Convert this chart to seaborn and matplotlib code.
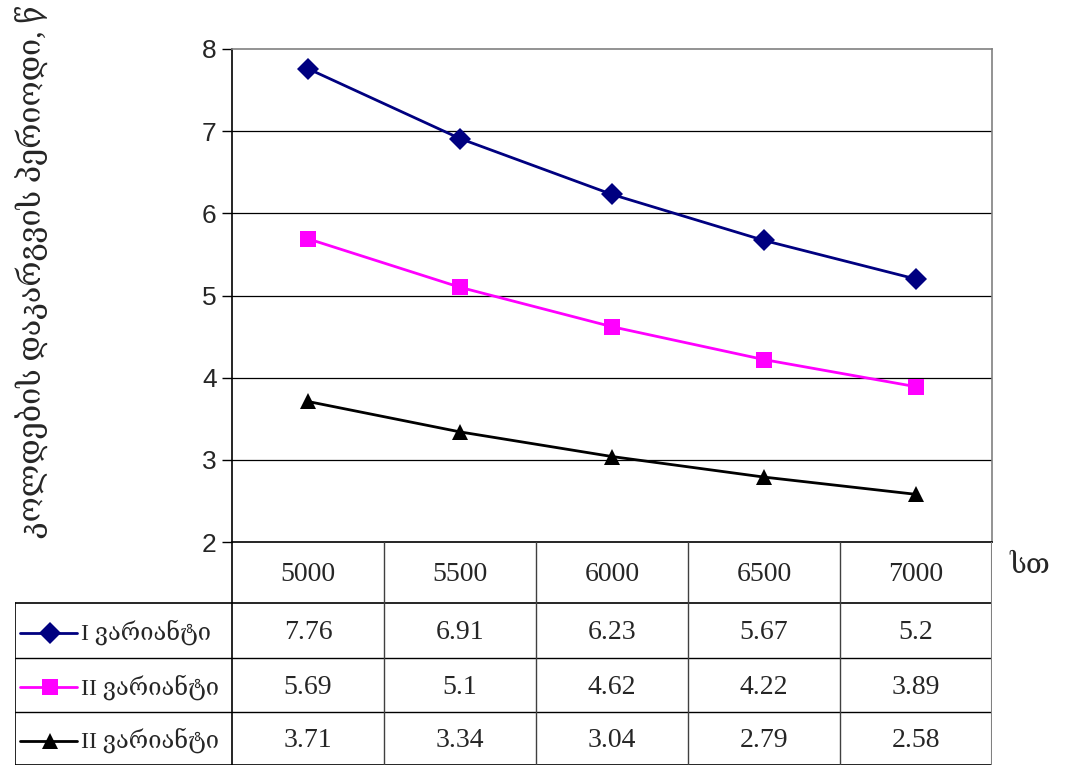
import matplotlib
matplotlib.use("Agg")
import matplotlib.pyplot as plt
from matplotlib.lines import Line2D
import seaborn as sns
import pandas as pd

# data
hours = ["5000", "5500", "6000", "6500", "7000"]
variant_names = ["I ვარიანტი", "II ვარიანტი", "II ვარიანტი "]
v1 = [7.76, 6.91, 6.23, 5.67, 5.2]
v2 = [5.69, 5.1, 4.62, 4.22, 3.89]
v3 = [3.71, 3.34, 3.04, 2.79, 2.58]
y_label = "კოლდების დაკარგვის პერიოდი, წ"
x_unit = "სთ"

colors = ["#000080", "#FF00FF", "#000000"]
markers = ["D", "s", "^"]

sns.set_theme(style="white")
serif = ["Liberation Serif", "DejaVu Serif"]
plt.rcParams["font.family"] = ["Liberation Sans", "DejaVu Sans"]

rows = []
for name, vals in zip(variant_names, [v1, v2, v3]):
    for i, v in enumerate(vals):
        rows.append({"pos": i, "val": v, "variant": name})
df = pd.DataFrame(rows)

W, H = 1066, 766
fig = plt.figure(figsize=(W / 100, H / 100), dpi=100)

# plot area in pixels
L, R, T, B = 232, 992, 49, 542
ax = fig.add_axes([L / W, 1 - B / H, (R - L) / W, (B - T) / H])

sns.lineplot(data=df, x="pos", y="val", hue="variant", style="variant",
             palette=colors, markers=markers, dashes=False, linewidth=2.0,
             markersize=11, markeredgewidth=0, ax=ax, legend=False)

ax.set_xlim(-0.5, len(hours) - 0.5)
ax.set_ylim(2, 8)
ax.set_yticks(range(2, 9))
ax.set_xticks([])
ax.set_xlabel("")
ax.set_ylabel("")
ax.tick_params(axis="y", labelsize=19, length=7, width=1, color="black",
               direction="out", left=True, pad=4)
for y in range(3, 8):
    ax.axhline(y, color="black", lw=0.9, zorder=0)
ax.spines["left"].set_color("black")
ax.spines["bottom"].set_color("black")
ax.spines["top"].set_color("#808080")
ax.spines["right"].set_color("#808080")
for s in ax.spines.values():
    s.set_linewidth(1.2)

fig.text(32 / W, 1 - 272 / H, y_label, rotation=90, ha="center", va="center",
         fontsize=22, family=serif)
fig.text(1030 / W, 1 - 566 / H, x_unit, ha="center", va="center",
         fontsize=20, family=serif)

# data table under the plot
TL, TB = 15, 765
unit = (R - L) / len(hours)
tab = fig.add_axes([TL / W, 1 - TB / H, (R - TL) / W, (TB - B) / H])
tab.set_xlim(-0.5 - (L - TL) / unit, len(hours) - 0.5)
row_edges = [542, 603, 658, 712, 765]
tab.set_ylim(TB, B)
tab.axis("off")

x0 = tab.get_xlim()[0]
xl = -0.5
xr = len(hours) - 0.5
# horizontal lines
for yy in row_edges[2:4]:
    tab.plot([x0, xr], [yy] * 2, color="black", lw=1.0)
tab.plot([x0, xr], [row_edges[1]] * 2, color="black", lw=1.2)
tab.plot([x0, xr], [row_edges[-1]] * 2, color="black", lw=1.2)
# vertical lines
tab.plot([xl, xl], [row_edges[0], row_edges[-1]], color="black", lw=1.2)
tab.plot([x0, x0], [row_edges[1], row_edges[-1]], color="black", lw=1.2)
for i in range(1, len(hours)):
    tab.plot([i - 0.5] * 2, [row_edges[0], row_edges[-1]], color="#404040", lw=1.0)
tab.plot([xr, xr], [row_edges[0], row_edges[-1]], color="#808080", lw=1.5)

for i, h in enumerate(hours):
    tab.text(i, (row_edges[0] + row_edges[1]) / 2 + 2, h, ha="center", va="center",
             fontsize=20, family=serif)

px = (xl - x0) / (L - TL)  # data units per pixel in table
for r, (name, vals) in enumerate(zip(variant_names, [v1, v2, v3])):
    yc = (row_edges[r + 1] + row_edges[r + 2]) / 2 + 2
    for i, v in enumerate(vals):
        tab.text(i, yc, f"{v:g}", ha="center", va="center", fontsize=20, family=serif)
    tab.add_line(Line2D([x0 + 5 * px, x0 + 62 * px], [yc, yc], color=colors[r], lw=2.0))
    tab.plot([x0 + 35 * px], [yc], marker=markers[r], color=colors[r],
             markersize=11, markeredgewidth=0)
    tab.text(x0 + 66 * px, yc, name.strip(), ha="left", va="center",
             fontsize=17, family=serif)

fig.savefig("out.png", dpi=100)
